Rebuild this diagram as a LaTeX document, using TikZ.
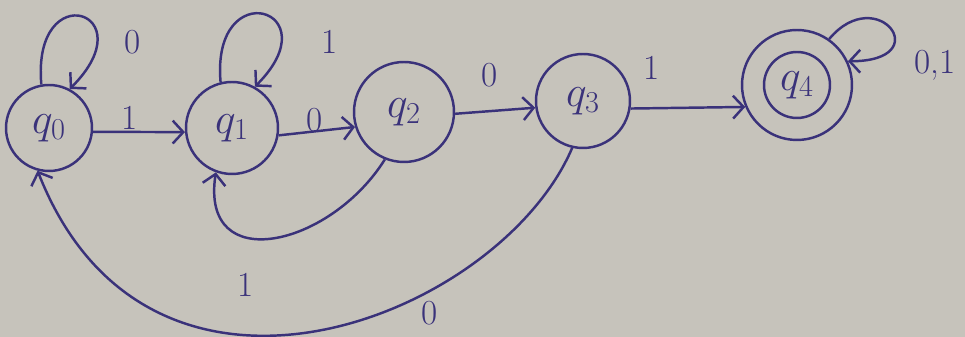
\documentclass[tikz,border=0pt]{standalone}
\usetikzlibrary{arrows.meta}
\definecolor{inkc}{RGB}{58,50,122}
\definecolor{paper}{RGB}{198,195,187}
\begin{document}
\begin{tikzpicture}[x=0.02cm,y=0.02cm,
  ink/.style={draw=inkc, line width=1.4pt},
  state/.style={circle, ink, inner sep=0pt, text=inkc, font=\fontsize{24}{28}\selectfont},
  edge/.style={ink, -{Straight Barb[length=6pt,width=13pt,line width=1.4pt]}},
  lbl/.style={text=inkc, font=\fontsize{20}{24}\selectfont, inner sep=1pt}]
\fill[paper] (0,0) rectangle (965,337);
\useasboundingbox (0,0) rectangle (965,337);

\node[state, minimum size=1.72cm] (q0) at (49,209) {$q_0$};
\node[state, minimum size=1.84cm] (q1) at (232,209) {$q_1$};
\node[state, minimum size=2.0cm]  (q2) at (404,225) {$q_2$};
\node[state, minimum size=1.88cm] (q3) at (583,236) {$q_3$};
\node[state, minimum size=2.2cm]  (q4) at (797,252) {};
\node[state, minimum size=1.32cm] (q4i) at (q4) {$q_4$};

% straight transitions
\draw[edge] (q0.-5) -- (q1.185);
\draw[edge] (q1.-9) -- (q2.197);
\draw[edge] (q2.-2) -- (q3.188);
\draw[edge] (q3.-9) -- (q4.203);

% self loops
\draw[edge] (q0.100) .. controls +(95:110) and +(45:110) .. (q0.62);
\draw[edge] (q1.104) .. controls +(95:110) and +(45:110) .. (q1.61);
\draw[edge] (q4.55) .. controls +(50:75) and +(0:90) .. (q4.25);

% back transitions
\draw[edge] (q2.248) .. controls (330,90) and (200,60) .. (q1.250);
\draw[edge] (q3.257) .. controls (500,20) and (150,-120) .. (q0.255);

% labels
\node[lbl] (l00) at (133,295) {0};
\node[lbl] (l01) at (130,219) {1};
\node[lbl] (l11) at (330,295) {1};
\node[lbl] (l12) at (315,217) {0};
\node[lbl] (l23) at (490,262) {0};
\node[lbl] (l34) at (652,269) {1};
\node[lbl] (l44) at (935,272) {0,1};
\node[lbl] (l21) at (246,52) {1};
\node[lbl] (l30) at (430,24) {0};
\end{tikzpicture}
\end{document}
